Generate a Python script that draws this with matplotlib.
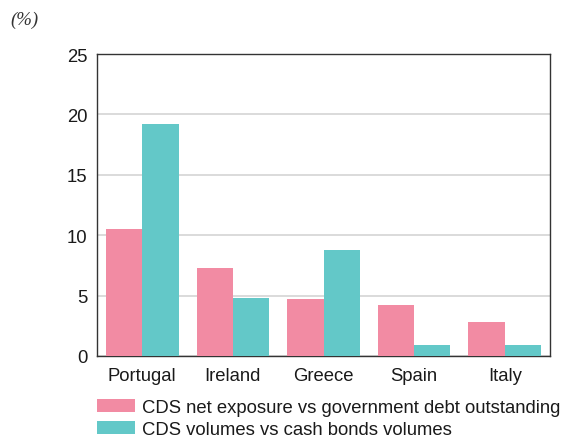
import matplotlib
matplotlib.use("Agg")
import matplotlib.pyplot as plt
import numpy as np

categories = ["Portugal", "Ireland", "Greece", "Spain", "Italy"]
net_exposure = [10.5, 7.3, 4.7, 4.2, 2.85]
volumes_ratio = [19.2, 4.8, 8.8, 0.95, 0.95]
series_labels = ["CDS net exposure vs government debt outstanding",
                 "CDS volumes vs cash bonds volumes"]
yticks = [0, 5, 10, 15, 20, 25]

plt.rcParams['font.family'] = ['Liberation Sans', 'DejaVu Sans']

fig = plt.figure(figsize=(5.66, 4.39), dpi=100)
W, H = 566, 439
ax = fig.add_axes([97 / W, 1 - 357 / H, (550 - 97) / W, (357 - 55) / H])

x = np.arange(len(categories))
w = 0.4
pink = "#F28BA3"
teal = "#63C8C8"
b1 = ax.bar(x - w / 2, net_exposure, w, color=pink, zorder=3, label=series_labels[0])
b2 = ax.bar(x + w / 2, volumes_ratio, w, color=teal, zorder=3, label=series_labels[1])

fs = 13.3
ax.set_xlim(-0.5, len(categories) - 0.5)
ax.set_ylim(0, 25)
ax.set_yticks(yticks)
ax.set_xticks(x)
ax.set_xticklabels(categories, fontsize=fs, color="#1a1a1a")
ax.tick_params(axis="y", labelsize=fs, length=0, pad=7, colors="#1a1a1a")
ax.tick_params(axis="x", length=0, pad=8)
ax.yaxis.grid(True, color="#d4d4d4", linewidth=1.2, zorder=0)
for s in ax.spines.values():
    s.set_color("#333333")
    s.set_linewidth(1.0)

fig.text(10 / W, 1 - 20 / H, "(%)", fontsize=13.5, style="italic",
         family=["Liberation Serif", "DejaVu Serif"], va="center", ha="left", color="#333333")

fig.legend(handles=[b1, b2], labels=series_labels, loc="upper left",
           bbox_to_anchor=(97 / W, 1 - 400 / H), frameon=False, fontsize=fs,
           handlelength=2.05, handleheight=0.7, handletextpad=0.4, labelspacing=0.25,
           borderaxespad=0, borderpad=0, labelcolor="#1a1a1a")

fig.savefig("out.png", dpi=100)
